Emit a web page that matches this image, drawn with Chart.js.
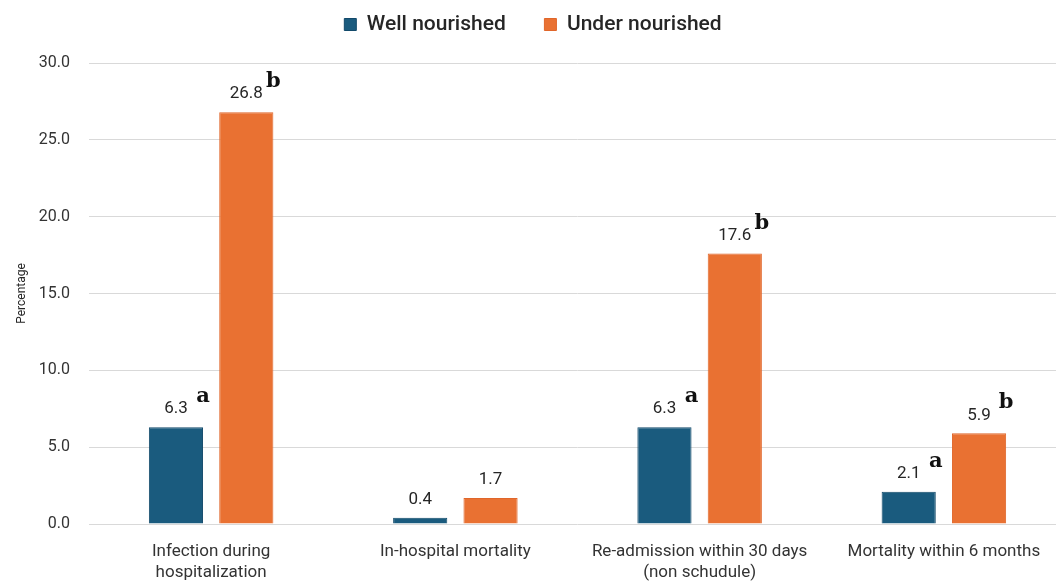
<!DOCTYPE html>
<html><head><meta charset="utf-8">
<script src="https://cdn.jsdelivr.net/npm/chart.js@4/dist/chart.umd.min.js"></script>
<style>html,body{margin:0;padding:0;background:#fff;overflow:hidden;}#wrap{width:1066px;height:583px;}</style>
</head><body><div id="wrap"><canvas id="c" width="1066" height="583"></canvas></div>
<script>
const categories = [["Infection during","hospitalization"],"In-hospital mortality",["Re-admission within 30 days","(non schudule)"],"Mortality within 6 months"];
const wellNourished = [6.3, 0.4, 6.3, 2.1];
const underNourished = [26.8, 1.7, 17.6, 5.9];
const wellLetters = ["a", "", "a", "a"];
const underLetters = ["b", "", "b", "b"];
const seriesNames = ["Well nourished", "Under nourished"];
const yTicks = [0, 5, 10, 15, 20, 25, 30];

const SANS = "Roboto, 'Open Sans', sans-serif";
const letterSets = [wellLetters, underLetters];

const legendGap = {
  id: 'legendGap',
  beforeLayout(chart) {
    const lg = chart.legend;
    if (lg && !lg._gapPatched) {
      const f = lg.fit.bind(lg);
      lg.fit = function () { f(); this.height += 18; };
      lg._gapPatched = true;
    }
  }
};

const labelPlugin = {
  id: 'barLabels',
  afterDatasetsDraw(chart) {
    const ctx = chart.ctx;
    chart.data.datasets.forEach((ds, di) => {
      const meta = chart.getDatasetMeta(di);
      meta.data.forEach((bar, i) => {
        ctx.save();
        ctx.fillStyle = '#262626';
        ctx.font = "17px " + SANS;
        ctx.textAlign = 'center';
        ctx.textBaseline = 'middle';
        ctx.fillText(ds.data[i].toFixed(1), bar.x, bar.y - 18);
        const L = letterSets[di][i];
        if (L) {
          ctx.font = "bold 21px 'DejaVu Serif', serif";
          ctx.fillStyle = '#111';
          ctx.textBaseline = 'alphabetic';
          ctx.fillText(L, bar.x + 27, bar.y - 25);
        }
        ctx.restore();
      });
    });
  }
};

new Chart(document.getElementById('c'), {
  type: 'bar',
  data: {
    labels: categories,
    datasets: [
      { label: seriesNames[0], data: wellNourished, backgroundColor: '#1a5b7e', borderColor: '#12496a', borderWidth: 1 },
      { label: seriesNames[1], data: underNourished, backgroundColor: '#e97132', borderColor: '#e0662a', borderWidth: 1 }
    ]
  },
  options: {
    responsive: false,
    animation: false,
    layout: { padding: { top: 2, bottom: 0, left: 0, right: 0 } },
    datasets: { bar: { categoryPercentage: 0.576, barPercentage: 0.77 } },
    plugins: {
      legend: {
        position: 'top',
        labels: {
          font: { family: SANS, size: 21, weight: '500' }, color: '#262626', boxWidth: 12, boxHeight: 12, padding: 12,
          generateLabels(chart) {
            const items = Chart.defaults.plugins.legend.labels.generateLabels(chart);
            if (items[0]) items[0].text = items[0].text + '\u2003 ';
            return items;
          }
        }
      },
      tooltip: { enabled: false }
    },
    scales: {
      x: {
        grid: { display: false },
        border: { display: false },
        ticks: { font: { family: SANS, size: 17 }, color: '#333', padding: 10, maxRotation: 0 },
        afterFit(s) { s.height = 59; }
      },
      y: {
        min: 0, max: 30,
        afterBuildTicks(s) { s.ticks = yTicks.map(v => ({ value: v })); },
        grid: { color: '#d9d9d9', drawTicks: false },
        border: { display: false },
        ticks: { font: { family: SANS, size: 16 }, color: '#333', padding: 19, callback: v => Number(v).toFixed(1) },
        title: { display: true, text: 'Percentage', font: { family: SANS, size: 12 }, color: '#262626', padding: { top: 15, bottom: 0 } },
        afterFit(s) { s.width = 89; }
      }
    }
  },
  plugins: [legendGap, labelPlugin]
});
</script></body></html>
